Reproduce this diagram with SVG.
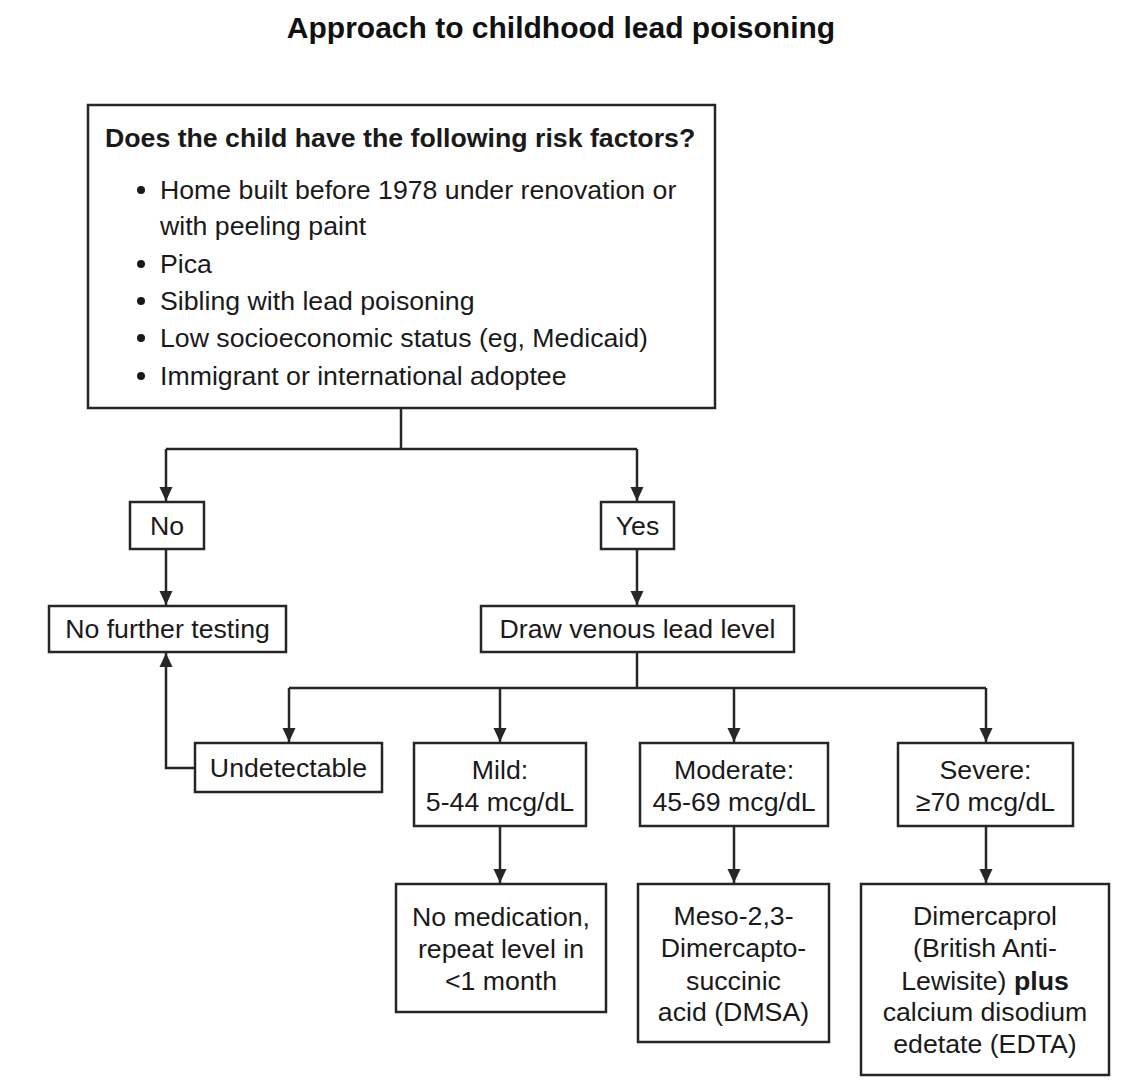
<svg xmlns="http://www.w3.org/2000/svg" width="1124" height="1086" viewBox="0 0 1124 1086">
<style>
  .box { fill: #ffffff; stroke: #262626; stroke-width: 2.5; }
  .t { font-family: "Liberation Sans", Arial, sans-serif; font-size: 26.7px; fill: #1a1a1a; }
  .c { text-anchor: middle; }
  .b { font-weight: bold; }
  .title { font-family: "Liberation Sans", Arial, sans-serif; font-size: 30px; font-weight: bold; fill: #111; text-anchor: middle; }
  .conn path { fill: none; stroke: #262626; stroke-width: 2.5; }
</style>
<defs>
  <marker id="ah" markerUnits="userSpaceOnUse" markerWidth="14" markerHeight="16" viewBox="0 0 14 16" refX="14" refY="8" orient="auto">
    <path d="M0,1.5 L14,8 L0,14.5 Z" fill="#262626"/>
  </marker>
</defs>
<rect width="1124" height="1086" fill="#ffffff"/>
<text class="title" x="561" y="38">Approach to childhood lead poisoning</text>

<g id="risk">
  <rect class="box" x="88" y="105" width="627" height="303"/>
  <text class="t b" x="105" y="147">Does the child have the following risk factors?</text>
  <circle cx="141" cy="190" r="4" fill="#1a1a1a"/>
  <text class="t" x="160" y="199">Home built before 1978 under renovation or</text>
  <text class="t" x="160" y="235">with peeling paint</text>
  <circle cx="141" cy="264" r="4" fill="#1a1a1a"/>
  <text class="t" x="160" y="273">Pica</text>
  <circle cx="141" cy="301" r="4" fill="#1a1a1a"/>
  <text class="t" x="160" y="310">Sibling with lead poisoning</text>
  <circle cx="141" cy="338" r="4" fill="#1a1a1a"/>
  <text class="t" x="160" y="347">Low socioeconomic status (eg, Medicaid)</text>
  <circle cx="141" cy="376" r="4" fill="#1a1a1a"/>
  <text class="t" x="160" y="385">Immigrant or international adoptee</text>
</g>

<g id="no">
  <rect class="box" x="130" y="502" width="74" height="47"/>
  <text class="t c" x="167" y="535">No</text>
</g>
<g id="yes">
  <rect class="box" x="601" y="502" width="73" height="47"/>
  <text class="t c" x="637.5" y="535">Yes</text>
</g>
<g id="nofurther">
  <rect class="box" x="49" y="606" width="237" height="46"/>
  <text class="t c" x="167.5" y="638">No further testing</text>
</g>
<g id="draw">
  <rect class="box" x="481" y="606" width="313" height="46"/>
  <text class="t c" x="637.5" y="638">Draw venous lead level</text>
</g>
<g id="undetectable">
  <rect class="box" x="195" y="743" width="187" height="49"/>
  <text class="t c" x="288.5" y="777">Undetectable</text>
</g>
<g id="mild">
  <rect class="box" x="414" y="743" width="172" height="83"/>
  <text class="t c" x="500" y="779">Mild:</text>
  <text class="t c" x="500" y="811">5-44 mcg/dL</text>
</g>
<g id="moderate">
  <rect class="box" x="640" y="743" width="188" height="83"/>
  <text class="t c" x="734" y="779">Moderate:</text>
  <text class="t c" x="734" y="811">45-69 mcg/dL</text>
</g>
<g id="severe">
  <rect class="box" x="898" y="743" width="175" height="83"/>
  <text class="t c" x="985.5" y="779">Severe:</text>
  <text class="t c" x="985.5" y="811">≥70 mcg/dL</text>
</g>
<g id="nomed">
  <rect class="box" x="396" y="884" width="210" height="128"/>
  <text class="t c" x="501" y="926">No medication,</text>
  <text class="t c" x="501" y="958">repeat level in</text>
  <text class="t c" x="501" y="990">&lt;1 month</text>
</g>
<g id="dmsa">
  <rect class="box" x="638" y="884" width="191" height="158"/>
  <text class="t c" x="733.5" y="925">Meso-2,3-</text>
  <text class="t c" x="733.5" y="957">Dimercapto-</text>
  <text class="t c" x="733.5" y="990">succinic</text>
  <text class="t c" x="733.5" y="1021">acid (DMSA)</text>
</g>
<g id="bal">
  <rect class="box" x="861" y="884" width="248" height="191"/>
  <text class="t c" x="985" y="925">Dimercaprol</text>
  <text class="t c" x="985" y="957">(British Anti-</text>
  <text class="t c" x="985" y="990">Lewisite) <tspan class="b">plus</tspan></text>
  <text class="t c" x="985" y="1021">calcium disodium</text>
  <text class="t c" x="985" y="1053">edetate (EDTA)</text>
</g>

<g id="connectors" class="conn">
  <path d="M401,408 V449"/>
  <path d="M166,449 H637"/>
  <path d="M166,449 V501" marker-end="url(#ah)"/>
  <path d="M637,449 V501" marker-end="url(#ah)"/>
  <path d="M166,549 V605" marker-end="url(#ah)"/>
  <path d="M637,549 V605" marker-end="url(#ah)"/>
  <path d="M637,652 V688"/>
  <path d="M289,688 H986"/>
  <path d="M289,688 V742" marker-end="url(#ah)"/>
  <path d="M500,688 V742" marker-end="url(#ah)"/>
  <path d="M734,688 V742" marker-end="url(#ah)"/>
  <path d="M986,688 V742" marker-end="url(#ah)"/>
  <path d="M195,768 H166 V653" marker-end="url(#ah)"/>
  <path d="M500,826 V883" marker-end="url(#ah)"/>
  <path d="M734,826 V883" marker-end="url(#ah)"/>
  <path d="M986,826 V883" marker-end="url(#ah)"/>
</g>
</svg>
